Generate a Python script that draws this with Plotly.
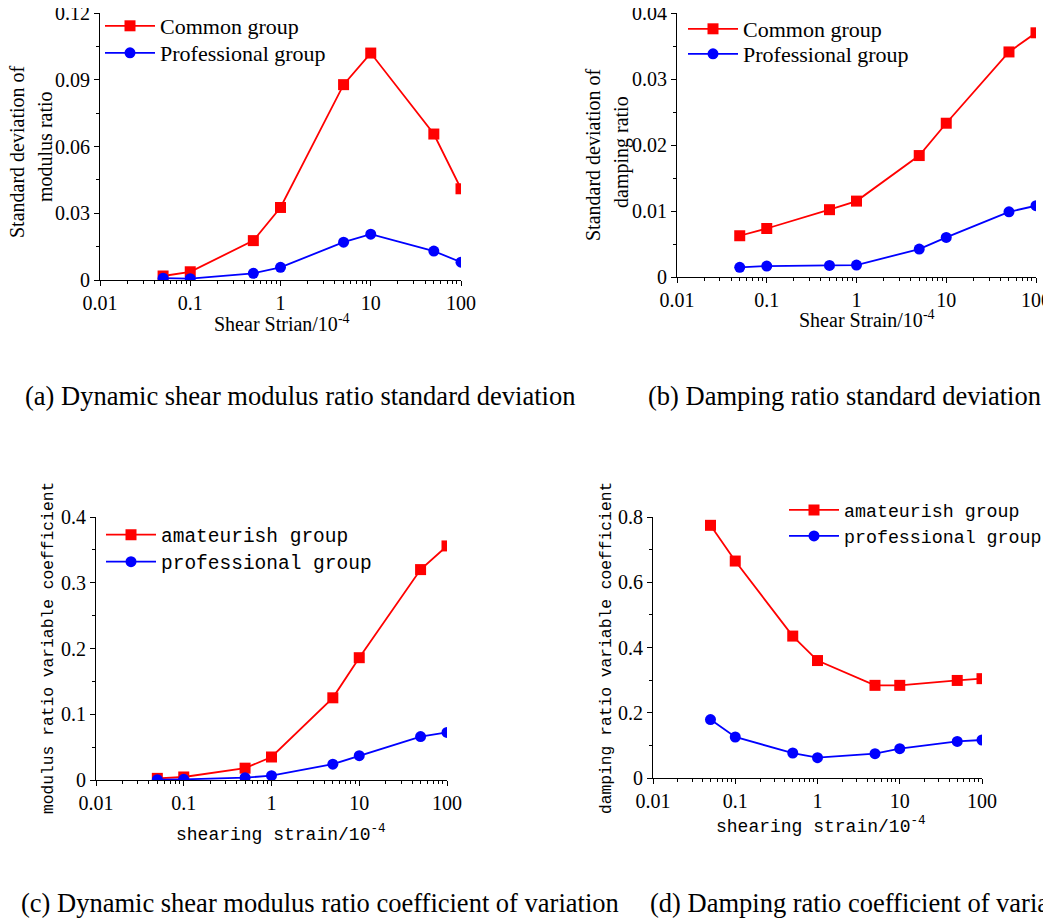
import plotly.graph_objects as go

# ---------------- data ----------------
strain = [0.05, 0.1, 0.5, 1, 5, 10, 50, 100]

a_common = [0.0018, 0.0037, 0.0177, 0.0326, 0.0878, 0.1020, 0.0656, 0.0410]
a_prof = [0.0008, 0.0006, 0.0030, 0.0057, 0.0170, 0.0206, 0.0130, 0.0080]

b_common = [0.00625, 0.00735, 0.0102, 0.0115, 0.0184, 0.0233, 0.0341, 0.0370]
b_prof = [0.00146, 0.00166, 0.00176, 0.0018, 0.00423, 0.0060, 0.00987, 0.0108]

c_amateur = [0.0025, 0.0046, 0.018, 0.035, 0.125, 0.186, 0.320, 0.356]
c_prof = [0.0005, 0.001, 0.0035, 0.0066, 0.024, 0.037, 0.066, 0.0724]

d_amateur = [0.7745, 0.665, 0.435, 0.360, 0.284, 0.284, 0.299, 0.3045]
d_prof = [0.179, 0.1257, 0.0766, 0.0623, 0.0746, 0.090, 0.112, 0.1165]

x_tickvals = [0.01, 0.1, 1, 10, 100]
x_ticktext = ["0.01", "0.1", "1", "10", "100"]

# ---------------- layout helpers ----------------
# the page body has an 8 px margin, so the figure is laid out in screen pixels
OFF = 8
W, H = 1051 - OFF, 918 - OFF
SERIF = "Liberation Serif"
MONO = "Liberation Mono"
RED = "#ff0000"
BLUE = "#0000ff"


def px_x(p):
    return (p - OFF) / W


def px_y(p):
    return 1 - (p - OFF) / H


minor_x = [m * 10 ** e for e in range(-2, 2) for m in range(2, 10)]

fig = go.Figure()

panels = [
    dict(y1=a_common, y2=a_prof, n1="Common group", n2="Professional group",
         dx=(100, 461), dy=(13, 280),
         yt=[0, 0.03, 0.06, 0.09, 0.12], ytt=["0", "0.03", "0.06", "0.09", "0.12"],
         ymax=0.12, ymin_dt=0.015, lfont=SERIF, lsize=22,
         lx=100, rows=(26, 53)),
    dict(y1=b_common, y2=b_prof, n1="Common group", n2="Professional group",
         dx=(677, 1036), dy=(13, 277),
         yt=[0, 0.01, 0.02, 0.03, 0.04], ytt=["0", "0.01", "0.02", "0.03", "0.04"],
         ymax=0.04, ymin_dt=0.005, lfont=SERIF, lsize=22,
         lx=683, rows=(29, 54)),
    dict(y1=c_amateur, y2=c_prof, n1="amateurish group", n2="professional group",
         dx=(96, 447), dy=(517, 780),
         yt=[0, 0.1, 0.2, 0.3, 0.4], ytt=["0", "0.1", "0.2", "0.3", "0.4"],
         ymax=0.4, ymin_dt=0.05, lfont=MONO, lsize=19.5,
         lx=101, rows=(535, 562)),
    dict(y1=d_amateur, y2=d_prof, n1="amateurish group", n2="professional group",
         dx=(653, 982), dy=(517, 778),
         yt=[0, 0.2, 0.4, 0.6, 0.8], ytt=["0", "0.2", "0.4", "0.6", "0.8"],
         ymax=0.8, ymin_dt=0.1, lfont=MONO, lsize=18.3,
         lx=784, rows=(510, 536)),
]

layout = dict(
    width=W, height=H,
    margin=dict(l=0, r=0, t=0, b=0, autoexpand=False),
    paper_bgcolor="white", plot_bgcolor="white",
    showlegend=True,
    font=dict(family=SERIF, size=20, color="black"),
)

leg_idx = 0
for i, p in enumerate(panels, start=1):
    xa = "x" if i == 1 else f"x{i}"
    ya = "y" if i == 1 else f"y{i}"
    series = [
        (p["y1"], p["n1"], RED, "square", p["rows"][0]),
        (p["y2"], p["n2"], BLUE, "circle", p["rows"][1]),
    ]
    for yv, name, col, sym, row in series:
        leg_idx += 1
        lkey = "legend" if leg_idx == 1 else f"legend{leg_idx}"
        fig.add_trace(go.Scatter(
            x=strain, y=yv, name=name, mode="lines+markers",
            xaxis=xa, yaxis=ya, legend=lkey,
            line=dict(color=col, width=1.8),
            marker=dict(symbol=sym, size=11, color=col),
        ))
        layout[lkey] = dict(
            x=px_x(p["lx"]), y=px_y(row), xanchor="left", yanchor="middle",
            bgcolor="rgba(0,0,0,0)", borderwidth=0,
            font=dict(family=p["lfont"], size=p["lsize"], color="black"),
            itemwidth=50,
        )
    xkey = "xaxis" if i == 1 else f"xaxis{i}"
    ykey = "yaxis" if i == 1 else f"yaxis{i}"
    layout[xkey] = dict(
        type="log", range=[-2, 2], anchor=ya, automargin=False,
        domain=[px_x(p["dx"][0]), px_x(p["dx"][1])],
        tickvals=x_tickvals, ticktext=x_ticktext, ticklabeloverflow="allow",
        ticks="outside", ticklen=5, tickwidth=1, tickcolor="black",
        showline=True, linecolor="black", linewidth=1,
        showgrid=False, zeroline=False,
        tickfont=dict(family=SERIF, size=20, color="black"),
        minor=dict(tickvals=minor_x, ticks="outside", ticklen=3,
                   tickcolor="black", showgrid=False),
    )
    layout[ykey] = dict(
        range=[0, p["ymax"]], anchor=xa, automargin=False,
        domain=[px_y(p["dy"][1]), px_y(p["dy"][0])],
        tickvals=p["yt"], ticktext=p["ytt"], ticklabeloverflow="allow",
        ticks="outside", ticklen=5, tickwidth=1, tickcolor="black",
        showline=True, linecolor="black", linewidth=1,
        showgrid=False, zeroline=False,
        tickfont=dict(family=SERIF, size=20, color="black"),
        minor=dict(dtick=p["ymin_dt"], tick0=0, ticks="outside", ticklen=3,
                   tickcolor="black", showgrid=False),
    )

fig.update_layout(**layout)

annotations = [
    # y-axis titles
    dict(text="Standard deviation of", x=17, y=152, font=dict(family=SERIF, size=20), textangle=-90),
    dict(text="modulus ratio", x=45, y=147, font=dict(family=SERIF, size=20), textangle=-90),
    dict(text="Standard deviation of", x=593, y=155, font=dict(family=SERIF, size=20), textangle=-90),
    dict(text="damping ratio", x=621, y=152, font=dict(family=SERIF, size=20), textangle=-90),
    dict(text="modulus ratio variable coefficient", x=48, y=648, font=dict(family=MONO, size=16.3), textangle=-90),
    dict(text="damping ratio variable coefficient", x=606, y=648, font=dict(family=MONO, size=16.3), textangle=-90),
    # x-axis titles
    dict(text="Shear Strian/10<sup>-4</sup>", x=282, y=323, font=dict(family=SERIF, size=20)),
    dict(text="Shear Strain/10<sup>-4</sup>", x=867, y=319, font=dict(family=SERIF, size=20)),
    dict(text="shearing strain/10<sup>-4</sup>", x=281, y=833, font=dict(family=MONO, size=18)),
    dict(text="shearing strain/10<sup>-4</sup>", x=821, y=825, font=dict(family=MONO, size=18)),
]
for a in annotations:
    fig.add_annotation(
        text=a["text"], x=px_x(a["x"]), y=px_y(a["y"]), xref="paper", yref="paper",
        showarrow=False, xanchor="center", yanchor="middle",
        textangle=a.get("textangle", 0),
        font=dict(color="black", **a["font"]),
    )

captions = [
    ("(a) Dynamic shear modulus ratio standard deviation", 23, 396),
    ("(b) Damping ratio standard deviation", 646, 396),
    ("(c) Dynamic shear modulus ratio coefficient of variation", 19, 903),
    ("(d) Damping ratio coefficient of varia", 648, 903),
]
for text, cx, cy in captions:
    fig.add_annotation(
        text=text, x=px_x(cx), y=px_y(cy), xref="paper", yref="paper",
        showarrow=False, xanchor="left", yanchor="middle",
        font=dict(family=SERIF, size=26.5, color="black"),
    )

fig.write_html("out.html")
